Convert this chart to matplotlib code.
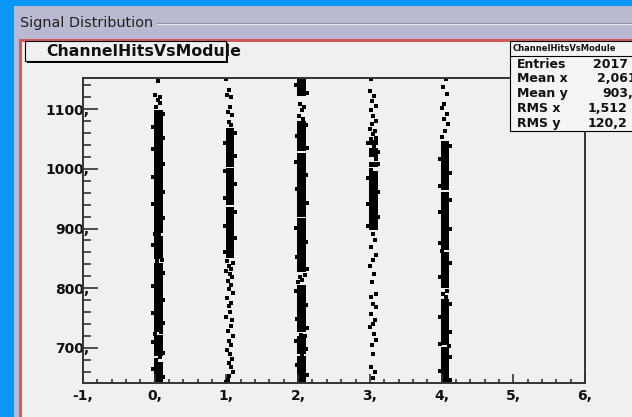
import matplotlib
matplotlib.use('Agg')
import matplotlib.pyplot as plt
from matplotlib.patches import Rectangle
from matplotlib.lines import Line2D
from matplotlib.ticker import MultipleLocator

W, H = 632, 417

modules = [0, 1, 2, 3, 4]
x_ticks = [-1, 0, 1, 2, 3, 4, 5, 6]
y_ticks = [700, 800, 900, 1000, 1100]

# dense stretches of hits in each module (y from, y to)
bands_0 = [(643, 677), (686, 721), (727, 843), (849, 887), (893, 1098)]
bands_1 = [(850, 936), (939, 1001), (1004, 1068)]
bands_2 = [(1122, 1152), (1030, 1081), (919, 1027), (827, 917), (727, 806), (690, 719), (641, 687)]
bands_3 = [(897, 996), (1003, 1012), (1020, 1035), (1040, 1048)]
bands_4 = [(641, 701), (704, 782), (800, 861), (864, 961), (964, 1047)]

# single hits (x offset inside module bin, y)
hits_y_0 = [1148, 1124, 1121, 1116, 1110, 1104, 680, 684, 724, 726, 846, 848, 889, 891,
            1092, 1071, 1052, 1033, 1008, 987, 962, 941, 918, 872, 826, 803, 781, 758,
            741, 709, 692, 664, 651]
hits_dx_0 = [0.05, 0.01, 0.08, 0.04, 0.07, 0.02, 0.02, 0.08, 0.00, 0.09, 0.03, 0.10, 0.06, 0.01,
             0.115, -0.025, 0.115, -0.02, 0.12, -0.025, 0.115, -0.02, 0.12, -0.025, 0.115,
             -0.02, 0.12, -0.025, 0.115, -0.02, 0.12, -0.025, 0.115]
hits_y_1 = [1151, 1133, 1124, 1120, 1104, 1096, 1090, 1078, 1073, 846, 842, 838, 833, 829,
            824, 818, 812, 806, 798, 792, 784, 776, 770, 760, 752, 746, 736, 728, 719, 712,
            704, 697, 690, 682, 674, 667, 659, 652, 646, 642,
            1061, 1043, 1022, 997, 975, 952, 928, 905, 884, 861]
hits_dx_1 = [0.00, 0.03, 0.01, 0.07, 0.05, 0.02, 0.08, 0.04, 0.06, 0.01, 0.09, 0.03, 0.07, 0.00,
             0.05, 0.08, 0.02, 0.06, 0.04, 0.09, 0.01, 0.07, 0.03, 0.05, 0.00, 0.08, 0.06, 0.02,
             0.09, 0.04, 0.07, 0.01, 0.05, 0.08, 0.03, 0.06, 0.09, 0.04, 0.02, 0.00,
             0.115, -0.02, 0.12, -0.025, 0.115, -0.02, 0.12, -0.025, 0.115, -0.02]
hits_y_2 = [1109, 1104, 1098, 1089, 1084, 822, 819, 814, 810, 722, 720, 688,
            1140, 1127, 1074, 1056, 1035, 1012, 990, 966, 943, 901, 877, 852, 833,
            796, 772, 748, 733, 711, 698, 672, 655]
hits_dx_2 = [0.02, 0.08, 0.05, 0.01, 0.07, 0.09, 0.03, 0.06, 0.00, 0.04, 0.10, 0.06,
             -0.025, 0.12, 0.115, -0.02, 0.12, -0.025, 0.115, -0.02, 0.12, -0.025, 0.115,
             -0.02, 0.12, -0.025, 0.115, -0.02, 0.12, -0.025, 0.115, -0.02, 0.12]
hits_y_3 = [1151, 1131, 1123, 1114, 1106, 1098, 1089, 1081, 1075, 1067, 1063, 1058, 1052, 1050,
            1038, 1016, 999, 891, 880, 869, 855, 847, 838, 824, 810, 791, 785, 774, 768, 757,
            746, 740, 735, 724, 713, 704, 690, 668, 660, 650, 640,
            1044, 1028, 1008, 984, 962, 941, 920, 904]
hits_dx_3 = [0.02, 0.00, 0.06, 0.03, 0.08, 0.01, 0.05, 0.09, 0.03, 0.00, 0.07, 0.04, 0.09, 0.02,
             0.06, 0.08, 0.01, 0.04, 0.07, 0.02, 0.09, 0.05, 0.00, 0.06, 0.03, 0.08, 0.01, 0.05,
             0.09, 0.02, 0.07, 0.04, 0.00, 0.06, 0.08, 0.03, 0.05, 0.01, 0.07, 0.04, 0.02,
             -0.02, 0.115, 0.12, -0.025, 0.115, -0.02, 0.12, -0.025]
hits_y_4 = [1151, 1137, 1126, 1109, 1103, 1092, 1084, 1075, 1064, 1053, 796, 790, 786, 703, 863,
            1039, 1017, 994, 971, 948, 927, 899, 876, 842, 819, 773, 751, 727, 706, 684, 661, 646]
hits_dx_4 = [0.06, 0.02, 0.08, 0.04, 0.00, 0.07, 0.03, 0.09, 0.05, 0.01, 0.08, 0.02, 0.06, 0.10, 0.00,
             0.115, -0.02, 0.12, -0.025, 0.115, -0.02, 0.12, -0.025, 0.115, -0.02, 0.12,
             -0.025, 0.115, -0.02, 0.12, -0.025, 0.115]

stat_names = ['Entries', 'Mean x', 'Mean y', 'RMS x', 'RMS y']
stat_values = ['2017', '2,061', '903,4', '1,512', '120,2']

bands = [bands_0, bands_1, bands_2, bands_3, bands_4]
hits_y = [hits_y_0, hits_y_1, hits_y_2, hits_y_3, hits_y_4]
hits_dx = [hits_dx_0, hits_dx_1, hits_dx_2, hits_dx_3, hits_dx_4]


def fx(px):
    return px / W


def fy(py):
    return 1 - py / H


canvas_col = '#f0f0f0'

fig = plt.figure(figsize=(W / 100, H / 100), dpi=100, facecolor='#0c96f6')

# window panel and canvas (behind the axes)
fig.patches.append(Rectangle((fx(14), 0), 1, fy(6), transform=fig.transFigure,
                             facecolor='#b9b9d2', edgecolor='none', zorder=-10))
fig.patches.append(Rectangle((fx(19), 0), 1, fy(39), transform=fig.transFigure,
                             facecolor='#d45a5a', edgecolor='none', zorder=-9))
fig.patches.append(Rectangle((fx(21.5), 0), 1, fy(41.5), transform=fig.transFigure,
                             facecolor=canvas_col, edgecolor='none', zorder=-8))

fig.text(fx(20.5), fy(23.5), 'Signal Distribution', fontsize=10.4, va='center', ha='left',
         color='#222222', family='DejaVu Sans')
fig.lines.append(Line2D([fx(157), 1], [fy(23), fy(23)], transform=fig.transFigure,
                        color='#8c8ca4', lw=0.8, zorder=-7))
fig.lines.append(Line2D([fx(157), 1], [fy(24), fy(24)], transform=fig.transFigure,
                        color='#e8e8f0', lw=0.8, zorder=-7))

# main frame
ax = fig.add_axes([fx(83), fy(383), (585 - 83) / W, (383 - 77.7) / H])
ax.set_facecolor(canvas_col)
ax.set_xlim(-1, 6)
ax.set_ylim(641, 1153)

for m, bl, ys, dxs in zip(modules, bands, hits_y, hits_dx):
    for lo, hi in bl:
        ax.bar(m + 0.05, hi - lo, width=0.12, bottom=lo, color='black', linewidth=0)
    ax.plot([m + d for d in dxs], ys, 's', ms=3, color='black', mew=0, ls='none')

for s in ax.spines.values():
    s.set_linewidth(1.4)
    s.set_color('#333333')

ax.set_xticks(x_ticks)
ax.set_xticklabels([f'{t},' for t in x_ticks], fontweight='bold', fontsize=10)
ax.set_yticks(y_ticks)
ax.set_yticklabels([f'{t},' for t in y_ticks], fontweight='bold', fontsize=10)
ax.xaxis.set_minor_locator(MultipleLocator(0.2))
ax.yaxis.set_minor_locator(MultipleLocator(20))
ax.tick_params(axis='x', which='major', direction='in', length=6.5, width=1.2, pad=4,
               color='#333333', labelcolor='#111111')
ax.tick_params(axis='x', which='minor', direction='in', length=3.2, width=1.2, color='#333333')
ax.tick_params(axis='y', which='major', direction='in', length=10.8, width=1.2, pad=-4.5,
               color='#333333', labelcolor='#111111')
ax.tick_params(axis='y', which='minor', direction='in', length=5.4, width=1.2, color='#333333')

# title box
fig.patches.append(Rectangle((fx(27), fy(63)), (228 - 27) / W, (63 - 43) / H,
                             transform=fig.transFigure, facecolor='black', edgecolor='none',
                             zorder=2))
fig.patches.append(Rectangle((fx(25), fy(61)), (226 - 25) / W, (61 - 41) / H,
                             transform=fig.transFigure, facecolor=canvas_col,
                             edgecolor='black', lw=0.8, zorder=3))
fig.text(fx(46.5), fy(51.5), 'ChannelHitsVsModule', fontsize=11.3, fontweight='bold',
         va='center', ha='left', color='#111111', zorder=4)

# statistics box
fig.patches.append(Rectangle((fx(510), fy(131)), (640 - 510) / W, (131 - 41) / H,
                             transform=fig.transFigure, facecolor='#f4f4f4',
                             edgecolor='black', lw=0.8, zorder=3))
fig.lines.append(Line2D([fx(510), 1], [fy(56), fy(56)], transform=fig.transFigure,
                        color='black', lw=0.8, zorder=4))
fig.text(fx(513), fy(48.5), 'ChannelHitsVsModule', fontsize=6, fontweight='bold',
         va='center', ha='left', color='#111111', zorder=4)
row_y = [64, 79, 93.5, 109, 124]
val_x = [593, 597, 602, 588, 588]
for name, val, ry, vx in zip(stat_names, stat_values, row_y, val_x):
    fig.text(fx(517), fy(ry), name, fontsize=9, fontweight='bold', va='center', ha='left',
             color='#111111', zorder=4)
    fig.text(fx(vx), fy(ry), val, fontsize=9, fontweight='bold', va='center', ha='left',
             color='#111111', zorder=4)

fig.savefig('out.png', dpi=100, facecolor=fig.get_facecolor())
